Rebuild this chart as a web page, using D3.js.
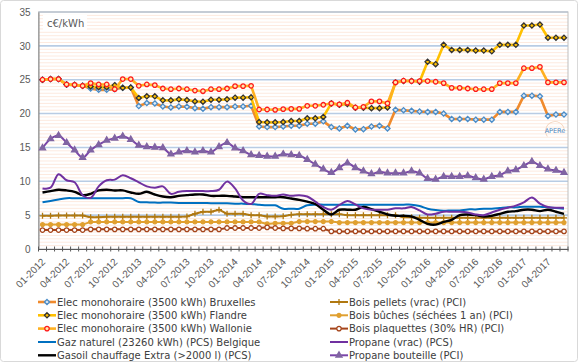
<!DOCTYPE html>
<html>
<head>
<meta charset="utf-8">
<script src="https://cdn.jsdelivr.net/npm/d3@7"></script>
<style>
body { margin: 0; background: #fff; }
svg { display: block; font-family: "DejaVu Sans", Verdana, sans-serif; }
.axis text { fill: #595959; font-size: 10px; }
.legend text { fill: #404040; font-size: 10px; }
</style>
</head>
<body>
<svg id="chart" width="580" height="363"></svg>
<script>
const months = [
  "01-2012","02-2012","03-2012","04-2012","05-2012","06-2012","07-2012","08-2012","09-2012","10-2012","11-2012","12-2012",
  "01-2013","02-2013","03-2013","04-2013","05-2013","06-2013","07-2013","08-2013","09-2013","10-2013","11-2013","12-2013",
  "01-2014","02-2014","03-2014","04-2014","05-2014","06-2014","07-2014","08-2014","09-2014","10-2014","11-2014","12-2014",
  "01-2015","02-2015","03-2015","04-2015","05-2015","06-2015","07-2015","08-2015","09-2015","10-2015","11-2015","12-2015",
  "01-2016","02-2016","03-2016","04-2016","05-2016","06-2016","07-2016","08-2016","09-2016","10-2016","11-2016","12-2016",
  "01-2017","02-2017","03-2017","04-2017","05-2017","06-2017"
];
const tickLabels = [
  "01-2012","04-2012","07-2012","10-2012","01-2013","04-2013","07-2013","10-2013",
  "01-2014","04-2014","07-2014","10-2014","01-2015","04-2015","07-2015","10-2015",
  "01-2016","04-2016","07-2016","10-2016","01-2017","04-2017"
];
const yTicks = [0, 5, 10, 15, 20, 25, 30, 35];

const bruxelles = [
  25.0,25.1,25.1,24.3,24.2,24.1,23.7,23.5,23.5,23.6,23.8,23.85,
  21.1,21.55,21.5,21.05,20.9,21.05,21.0,20.8,20.7,20.95,20.95,20.95,
  21.05,21.05,21.15,18.1,18.0,18.0,18.1,18.2,18.2,18.5,18.5,18.85,
  18.0,17.8,18.2,17.65,17.7,18.1,18.2,17.8,20.55,20.5,20.4,20.3,
  20.25,20.25,20.0,19.2,19.2,19.2,19.1,19.1,19.1,20.25,20.25,20.25,
  22.65,22.65,22.55,19.65,19.85,19.85
];
const flandre = [
  25.0,25.1,25.1,24.3,24.25,24.1,24.0,23.9,23.9,24.2,23.8,23.85,
  22.3,22.55,22.55,21.95,21.95,22.1,22.0,21.8,21.75,22.05,22.05,22.1,
  22.35,22.35,22.4,18.75,18.7,18.7,18.75,18.9,18.9,19.3,19.3,19.5,
  21.5,21.3,21.4,20.85,20.85,20.8,20.8,20.9,24.6,24.8,24.8,24.7,
  27.65,27.3,30.15,29.4,29.4,29.4,29.3,29.3,29.2,30.15,30.15,30.15,
  33.0,33.0,33.15,31.2,31.2,31.2
];
const wallonie = [
  25.0,25.1,25.1,24.3,24.25,24.1,24.5,24.3,24.3,23.6,25.1,25.1,
  24.1,24.3,24.2,23.7,23.6,23.7,23.6,23.4,23.3,23.6,23.6,23.7,
  24.05,24.05,24.1,20.6,20.6,20.55,20.65,20.7,20.7,21.15,21.15,21.3,
  21.5,21.35,21.6,20.9,21.0,21.8,21.8,21.5,24.6,24.85,24.8,24.8,
  24.8,24.7,24.5,23.8,23.8,23.7,23.6,23.6,23.6,24.5,24.5,24.5,
  26.7,26.7,26.9,24.6,24.6,24.6
];
const gazNaturel = [
  6.9,7.1,7.3,7.5,7.5,7.5,7.5,7.5,7.5,7.5,7.5,7.5,
  6.95,6.9,6.85,6.85,6.85,6.8,6.8,6.8,6.8,6.75,6.75,6.75,
  6.7,6.7,6.65,6.55,6.45,6.45,5.95,5.95,5.95,6.45,6.55,6.55,
  6.55,6.55,6.55,6.55,6.55,6.55,6.55,6.55,6.55,6.55,6.55,6.35,
  5.95,5.75,5.65,5.7,5.7,5.85,5.85,5.95,5.95,6.05,6.15,6.15,
  6.25,6.25,6.25,6.15,6.05,5.95
];
const gasoil = [
  8.35,8.55,8.75,8.65,8.45,7.95,8.15,8.65,8.75,8.65,8.65,8.35,
  8.15,8.45,8.05,7.75,7.65,7.85,7.95,8.05,8.05,7.85,7.85,7.85,
  7.75,7.65,7.65,7.65,7.65,7.65,7.65,7.45,7.25,7.0,6.65,5.8,
  5.1,5.8,5.8,5.8,6.2,5.9,5.5,5.1,4.9,4.9,4.8,4.3,
  3.7,3.6,4.0,4.3,5.0,5.1,5.0,4.8,4.9,5.2,5.5,5.6,
  5.8,5.8,5.6,5.8,5.5,5.2
];
const boisPellets = [
  4.9,4.9,4.95,4.95,4.95,4.95,4.7,4.7,4.75,4.75,4.75,4.75,
  4.75,4.75,4.75,4.75,4.75,4.75,4.8,5.2,5.5,5.5,5.8,5.2,
  5.2,5.2,5.0,5.0,4.8,4.8,4.85,5.05,5.15,5.15,5.15,5.15,
  5.15,5.15,5.0,5.0,5.0,5.0,5.0,5.0,5.0,4.7,4.7,4.6,
  4.6,4.6,4.6,4.6,4.6,4.6,4.6,4.6,4.6,4.6,4.6,4.6,
  4.6,4.6,4.6,4.6,4.6,4.6
];
const boisBuches = [
  3.6,3.6,3.6,3.6,3.6,3.6,4.0,4.0,4.0,4.0,4.0,4.0,
  4.0,4.0,4.0,4.0,4.0,4.0,4.0,4.0,4.0,4.0,4.0,4.0,
  4.0,4.0,4.0,4.0,3.7,3.8,3.8,3.8,4.05,4.05,4.05,4.05,
  4.05,3.9,3.9,3.9,3.9,3.9,3.9,3.9,3.9,3.9,3.9,3.9,
  3.9,3.9,3.9,3.9,3.9,3.9,3.9,3.9,3.9,3.9,3.9,3.9,
  3.9,3.9,3.9,3.9,3.9,3.9
];
const boisPlaquettes = [
  2.8,2.8,2.8,2.8,2.8,2.8,2.9,2.9,2.9,2.9,2.9,2.9,
  2.9,2.9,2.9,2.9,2.9,2.9,2.9,2.9,2.9,2.9,2.9,3.1,
  3.1,3.1,3.1,3.1,3.2,3.1,3.05,3.05,3.05,3.0,3.0,3.0,
  2.6,2.6,2.6,2.6,2.6,2.6,2.6,2.6,2.6,2.6,2.6,2.6,
  2.6,2.6,2.6,2.6,2.6,2.6,2.6,2.6,2.6,2.6,2.6,2.6,
  2.6,2.6,2.6,2.6,2.6,2.6
];
const propaneVrac = [
  8.95,9.05,11.05,10.15,9.85,7.95,7.55,9.25,10.15,10.25,10.9,10.45,
  9.85,9.25,9.05,9.25,8.15,8.45,8.55,8.55,8.55,8.55,8.75,9.95,
  8.95,7.15,6.65,8.15,7.95,7.85,8.05,7.85,7.95,7.75,7.0,6.2,
  5.8,6.5,7.1,6.6,6.0,5.8,5.8,5.8,6.0,6.0,6.2,5.7,
  5.1,5.2,5.5,5.5,5.5,5.4,5.1,5.0,5.4,5.8,6.1,6.4,
  6.9,7.6,6.7,6.2,6.1,6.1
];
const propaneBouteille = [
  14.9,16.25,16.75,15.7,14.6,13.5,14.6,15.4,16.05,16.35,16.65,16.15,
  15.3,15.1,15.0,14.95,14.0,14.3,14.5,14.3,14.5,14.3,15.1,15.7,
  14.9,14.5,13.9,13.8,13.7,13.7,14.0,13.9,13.8,13.2,12.5,11.8,
  11.3,12.0,12.7,12.0,11.5,11.1,11.4,11.2,11.2,11.2,11.5,11.2,
  10.4,10.3,10.7,10.7,10.7,10.8,10.5,10.3,10.7,10.9,11.5,11.7,
  12.3,12.9,12.3,11.8,11.6,11.3
];

// styles per series (legend order)
const series = [
  {name: "Elec monohoraire (3500 kWh) Bruxelles", values: bruxelles, color: "#f08a2c", width: 2.6, marker: "diamond", mStroke: "#4a8cc8", mFill: "#dbe9f6", smooth: false},
  {name: "Elec monohoraire (3500 kWh) Flandre", values: flandre, color: "#ffc000", width: 2.6, marker: "diamond", mStroke: "#333333", mFill: "#ffc000", smooth: false},
  {name: "Elec monohoraire (3500 kWh) Wallonie", values: wallonie, color: "#ffb020", width: 2.6, marker: "circle", mStroke: "#ff1a1a", mFill: "#ffe9b0", smooth: false},
  {name: "Gaz naturel (23260 kWh) (PCS) Belgique", values: gazNaturel, color: "#0070c0", width: 2, marker: null, smooth: true},
  {name: "Gasoil chauffage Extra (>2000 l) (PCS)", values: gasoil, color: "#000000", width: 2.4, marker: null, smooth: true},
  {name: "Bois pellets (vrac) (PCI)", values: boisPellets, color: "#b07810", width: 2, marker: "plus", mStroke: "#b07810", smooth: false},
  {name: "Bois bûches (séchées 1 an) (PCI)", values: boisBuches, color: "#e0a030", width: 2, marker: "dot", mStroke: "#e0a030", mFill: "#e0a030", smooth: false},
  {name: "Bois plaquettes (30% HR) (PCI)", values: boisPlaquettes, color: "#a5441a", width: 2, marker: "circle", mStroke: "#a5441a", mFill: "#ffffff", smooth: false},
  {name: "Propane (vrac) (PCS)", values: propaneVrac, color: "#7030a0", width: 2, marker: null, smooth: true},
  {name: "Propane bouteille (PCI)", values: propaneBouteille, color: "#7a45a8", width: 2, marker: "triangle", mStroke: "#8064a2", mFill: "#8064a2", smooth: true}
];
const drawOrder = [5, 6, 7, 3, 4, 8, 9, 0, 1, 2];

const plot = {left: 38.5, right: 568, top: 12, bottom: 249};
const svg = d3.select("#chart");

const x = d3.scaleBand().domain(months).range([plot.left, plot.right]);
const cx = m => x(m) + x.bandwidth() / 2;
const y = d3.scaleLinear().domain([0, 35]).range([plot.bottom, plot.top]);

// outer frame
svg.append("rect").attr("x", 0.5).attr("y", 0.5).attr("width", 577).attr("height", 361)
  .attr("rx", 3).attr("fill", "#fff").attr("stroke", "#d9d9d9");

// gridlines
const minor = d3.range(0, 35.01, 0.5).filter(v => v % 5 !== 0);
svg.append("g").selectAll("line").data(minor).join("line")
  .attr("x1", plot.left).attr("x2", plot.right)
  .attr("y1", d => y(d)).attr("y2", d => y(d))
  .attr("stroke", "#fdeadf").attr("stroke-width", 1);
svg.append("g").selectAll("line").data(yTicks.filter(v => v > 0)).join("line")
  .attr("x1", plot.left).attr("x2", plot.right)
  .attr("y1", d => y(d)).attr("y2", d => y(d))
  .attr("stroke", "#b8cce4").attr("stroke-width", 1.6);

svg.append("rect").attr("x", plot.left).attr("y", plot.top)
  .attr("width", plot.right - plot.left).attr("height", plot.bottom - plot.top)
  .attr("fill", "none").attr("stroke", "#bfbfbf");

// y axis
const yAxis = svg.append("g").attr("class", "axis")
  .attr("transform", "translate(" + plot.left + ",0)")
  .call(d3.axisLeft(y).tickValues(yTicks).tickSize(0).tickPadding(8));
yAxis.select(".domain").attr("stroke", "#868686");

// x axis
const xAxis = svg.append("g").attr("class", "axis")
  .attr("transform", "translate(0," + plot.bottom + ")")
  .call(d3.axisBottom(x).tickValues(tickLabels).tickSize(0));
xAxis.select(".domain").attr("stroke", "#595959");
xAxis.selectAll("text")
  .attr("text-anchor", "end")
  .attr("x", 0).attr("y", 0).attr("dy", "0.35em")
  .attr("transform", "translate(1,11) rotate(-45)");
// tick marks on category boundaries
const bounds = months.map(m => x(m)).concat([plot.right]);
svg.append("g").selectAll("line").data(bounds).join("line")
  .attr("x1", d => d).attr("x2", d => d)
  .attr("y1", plot.bottom - 2.5).attr("y2", plot.bottom + 2.5)
  .attr("stroke", "#595959");

// unit label
svg.append("rect").attr("x", 43).attr("y", 15).attr("width", 44).attr("height", 15).attr("fill", "#fff");
svg.append("text").attr("x", 47).attr("y", 26.5).attr("font-size", 10).attr("fill", "#595959").text("c€/kWh");

// logo
svg.append("path").attr("d", d3.arc()({innerRadius: 9, outerRadius: 9.8, startAngle: -2.2, endAngle: 1.4}))
  .attr("transform", "translate(555,131)").attr("fill", "#f4d3ba");
svg.append("text").attr("x", 555).attr("y", 133).attr("text-anchor", "middle")
  .attr("font-size", 6.5).attr("fill", "#4a86c0").text("APERe");

function markerPath(type) {
  if (type === "diamond") return d3.symbol(d3.symbolDiamond2, 17)();
  if (type === "circle") return d3.symbol(d3.symbolCircle, 16)();
  if (type === "dot") return d3.symbol(d3.symbolCircle, 12)();
  if (type === "triangle") return d3.symbol(d3.symbolTriangle, 16)();
  if (type === "plus") return "M-3,0H3M0,-3V3";
  return null;
}
function styleMarker(sel, s) {
  sel.attr("d", markerPath(s.marker))
    .attr("fill", s.marker === "plus" ? "none" : s.mFill)
    .attr("stroke", s.mStroke)
    .attr("stroke-width", s.marker === "plus" ? 1.3 : 1.3);
}

// series
drawOrder.forEach(i => {
  const s = series[i];
  const pts = months.map((m, j) => [cx(m), y(s.values[j])]);
  const line = d3.line().curve(s.smooth ? d3.curveCatmullRom.alpha(0.5) : d3.curveLinear);
  const g = svg.append("g");
  g.append("path").attr("d", line(pts)).attr("fill", "none")
    .attr("stroke", s.color).attr("stroke-width", s.width).attr("stroke-linejoin", "round");
  if (s.marker) {
    g.selectAll("path.m").data(pts).join("path").attr("class", "m")
      .attr("transform", d => "translate(" + d[0] + "," + d[1] + ")")
      .call(styleMarker, s);
  }
});

// legend
const rowY = [302, 315.3, 328.6, 342, 355.3];
const colX = [38, 330];
const legend = svg.append("g").attr("class", "legend");
series.forEach((s, i) => {
  const col = Math.floor(i / 5), row = i % 5;
  const lg = legend.append("g").attr("transform", "translate(" + colX[col] + "," + rowY[row] + ")");
  lg.append("line").attr("x1", 0).attr("x2", 18).attr("y1", 0).attr("y2", 0)
    .attr("stroke", s.color).attr("stroke-width", s.width);
  if (s.marker) {
    lg.append("path").attr("transform", "translate(9,0)").call(styleMarker, s);
  }
  lg.append("text").attr("x", 19).attr("y", 0).attr("dy", "0.35em").text(s.name);
});
</script>
</body>
</html>
